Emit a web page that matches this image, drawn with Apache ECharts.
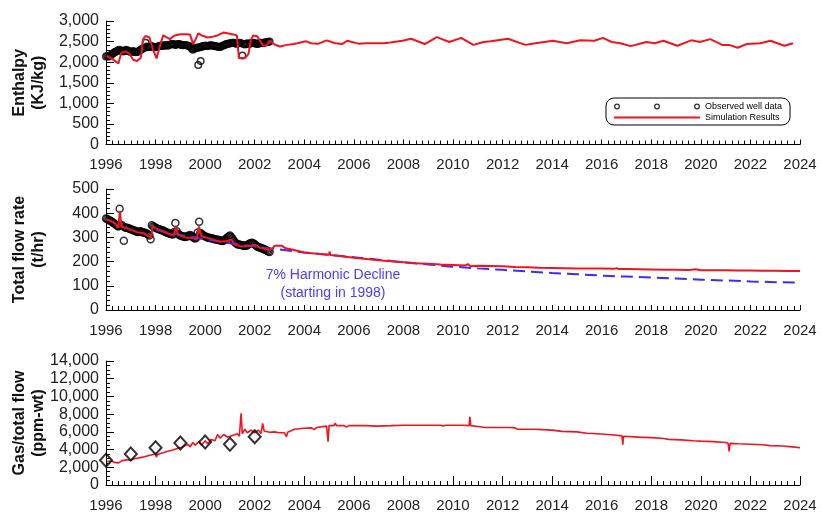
<!DOCTYPE html>
<html>
<head>
<meta charset="utf-8">
<script src="https://cdn.jsdelivr.net/npm/echarts@6/dist/echarts.min.js"></script>
<style>html,body{margin:0;padding:0;background:#fff}#c{width:822px;height:512px}</style>
</head>
<body>
<div id="c"></div>
<script>
// ---------- DATA ----------
const yearTicks = [1996,1998,2000,2002,2004,2006,2008,2010,2012,2014,2016,2018,2020,2022,2024];

// observed enthalpy [year, kJ/kg]
const enthObs = [[1996.00,2140],[1996.05,2150],[1996.10,2130],[1996.15,2160],[1996.20,2170],[1996.25,2200],[1996.30,2220],[1996.35,2240],[1996.40,2260],[1996.45,2270],[1996.50,2290],[1996.55,2300],[1996.60,2280],[1996.65,2270],[1996.70,2260],[1996.75,2280],[1996.80,2300],[1996.85,2290],[1996.90,2270],[1996.95,2260],
[1997.00,2250],[1997.05,2260],[1997.10,2270],[1997.15,2250],[1997.20,2240],[1997.25,2250],[1997.30,2260],[1997.35,2280],[1997.40,2300],[1997.45,2320],[1997.50,2330],[1997.55,2350],[1997.60,2470],[1997.65,2380],[1997.70,2360],[1997.75,2370],[1997.80,2380],[1997.85,2390],[1997.90,2370],[1997.95,2360],
[1998.00,2360],[1998.05,2370],[1998.10,2380],[1998.15,2390],[1998.20,2400],[1998.25,2410],[1998.30,2390],[1998.35,2400],[1998.40,2420],[1998.45,2410],[1998.50,2400],[1998.55,2420],[1998.60,2430],[1998.65,2440],[1998.70,2440],[1998.75,2430],[1998.80,2420],[1998.85,2430],[1998.90,2440],[1998.95,2440],
[1999.00,2430],[1999.05,2420],[1999.10,2410],[1999.15,2420],[1999.20,2420],[1999.25,2410],[1999.30,2400],[1999.35,2390],[1999.40,2380],[1999.45,2340],[1999.50,2300],[1999.55,2320],[1999.60,2340],[1999.65,2350],[1999.70,2350],[1999.72,1930],[1999.75,2360],[1999.80,2360],[1999.82,2030],[1999.85,2370],[1999.90,2390],[1999.95,2400],
[2000.00,2400],[2000.05,2400],[2000.10,2390],[2000.15,2400],[2000.20,2410],[2000.25,2410],[2000.30,2400],[2000.35,2400],[2000.40,2390],[2000.45,2380],[2000.50,2380],[2000.55,2370],[2000.60,2370],[2000.65,2380],[2000.70,2400],[2000.75,2410],[2000.80,2420],[2000.85,2440],[2000.90,2450],[2000.95,2450],
[2001.00,2460],[2001.05,2460],[2001.10,2470],[2001.15,2470],[2001.20,2460],[2001.25,2450],[2001.30,2450],[2001.35,2460],[2001.40,2470],[2001.45,2460],[2001.50,2160],[2001.55,2440],[2001.60,2430],[2001.65,2440],[2001.70,2460],[2001.75,2450],[2001.80,2450],[2001.85,2460],[2001.90,2470],[2001.95,2470],
[2002.00,2460],[2002.05,2450],[2002.10,2440],[2002.15,2450],[2002.20,2470],[2002.25,2470],[2002.30,2460],[2002.35,2470],[2002.40,2480],[2002.45,2480],[2002.50,2490],[2002.55,2490],[2002.60,2500]];

// simulated enthalpy [year, kJ/kg]
const enthSim = [[1996.03,2150],[1996.25,2080],[1996.5,1970],[1996.62,2230],[1996.8,2260],[1996.95,2200],[1997.1,2060],[1997.25,2030],[1997.4,2100],[1997.5,2560],[1997.6,2640],[1997.75,2600],[1997.9,2300],[1998.04,2090],[1998.2,2450],[1998.31,2650],[1998.45,2600],[1998.58,2560],[1998.75,2640],[1998.99,2680],[1999.2,2680],[1999.39,2670],[1999.52,2440],[1999.62,2560],[1999.72,2700],[1999.9,2640],[2000.1,2600],[2000.3,2620],[2000.5,2650],[2000.73,2720],[2000.9,2700],[2001.1,2680],[2001.28,2650],[2001.36,2100],[2001.61,2100],[2001.75,2200],[2001.85,2550],[2001.94,2650],[2002.1,2630],[2002.25,2480],[2002.35,2400],[2002.5,2420],[2002.62,2520],[2002.8,2430],[2003.02,2380],[2003.3,2420],[2003.58,2440],[2003.72,2460],[2004.06,2510],[2004.27,2460],[2004.55,2445],[2004.9,2530],[2005.25,2460],[2005.53,2440],[2005.73,2520],[2006.22,2445],[2006.5,2460],[2007.2,2460],[2007.47,2480],[2007.96,2520],[2008.31,2570],[2008.86,2440],[2009.35,2610],[2009.85,2490],[2010.33,2590],[2010.82,2420],[2011.24,2490],[2011.52,2510],[2012.22,2570],[2012.91,2420],[2013.33,2460],[2014.03,2520],[2014.59,2460],[2015.14,2530],[2015.7,2520],[2016.05,2590],[2016.4,2490],[2016.75,2460],[2017.17,2390],[2017.8,2490],[2018.14,2460],[2018.49,2520],[2019.05,2400],[2019.61,2530],[2019.96,2490],[2020.38,2560],[2020.86,2420],[2021.14,2420],[2021.49,2350],[2021.84,2440],[2022.4,2460],[2022.81,2520],[2023.37,2400],[2023.72,2460]];

// observed total flow [year, t/hr]
const flowObs = [[1996.00,378],[1996.05,376],[1996.10,372],[1996.15,370],[1996.20,368],[1996.25,364],[1996.30,360],[1996.35,356],[1996.40,352],[1996.45,348],[1996.50,345],[1996.55,418],[1996.60,348],[1996.65,350],[1996.72,286],[1996.75,342],[1996.80,340],[1996.85,340],[1996.90,338],[1996.95,336],
[1997.00,335],[1997.05,332],[1997.10,330],[1997.15,328],[1997.20,325],[1997.25,323],[1997.30,322],[1997.35,324],[1997.40,325],[1997.45,322],[1997.50,320],[1997.55,319],[1997.60,318],[1997.65,315],[1997.70,312],[1997.75,308],[1997.80,292],[1997.85,350],[1997.90,346],[1997.95,343],
[1998.00,340],[1998.05,338],[1998.10,335],[1998.15,334],[1998.20,332],[1998.25,330],[1998.30,328],[1998.35,325],[1998.40,322],[1998.45,320],[1998.50,318],[1998.55,316],[1998.60,315],[1998.65,313],[1998.70,312],[1998.75,322],[1998.80,360],[1998.85,325],[1998.90,315],[1998.95,311],
[1999.00,308],[1999.05,306],[1999.10,305],[1999.15,303],[1999.20,302],[1999.25,304],[1999.30,305],[1999.35,308],[1999.40,310],[1999.45,306],[1999.50,302],[1999.55,298],[1999.60,295],[1999.65,300],[1999.70,320],[1999.76,365],[1999.80,318],[1999.85,315],[1999.90,310],[1999.95,307],
[2000.00,305],[2000.05,302],[2000.10,300],[2000.15,299],[2000.20,298],[2000.25,296],[2000.30,295],[2000.35,293],[2000.40,292],[2000.45,291],[2000.50,290],[2000.55,289],[2000.60,288],[2000.65,286],[2000.70,285],[2000.75,287],[2000.80,290],[2000.85,295],[2000.90,300],[2000.95,304],
[2001.00,308],[2001.05,302],[2001.10,295],[2001.15,287],[2001.20,280],[2001.25,276],[2001.30,272],[2001.35,271],[2001.40,270],[2001.45,269],[2001.50,268],[2001.55,266],[2001.60,265],[2001.65,266],[2001.70,268],[2001.75,272],[2001.80,275],[2001.85,277],[2001.90,278],[2001.95,275],
[2002.00,272],[2002.05,267],[2002.10,262],[2002.15,260],[2002.20,258],[2002.25,256],[2002.30,255],[2002.35,252],[2002.40,250],[2002.45,248],[2002.50,245],[2002.55,242],[2002.60,240]];

// simulated total flow [year, t/hr]
const flowSim = [[1996.0,375],[1996.2,368],[1996.4,355],[1996.5,340],[1996.56,410],[1996.62,345],[1996.7,340],[1996.9,335],[1997.1,328],[1997.3,320],[1997.5,318],[1997.7,305],[1997.82,300],[1997.88,345],[1998.0,338],[1998.3,325],[1998.6,312],[1998.75,310],[1998.82,345],[1998.9,312],[1999.2,300],[1999.5,298],[1999.65,290],[1999.75,345],[1999.85,305],[2000.2,295],[2000.6,282],[2000.9,285],[2001.05,292],[2001.2,270],[2001.5,262],[2001.8,265],[2002.0,270],[2002.2,258],[2002.5,250],[2002.7,252],[2002.8,265],[2003.1,265],[2003.25,255],[2003.5,250],[2004.0,238],[2004.5,232],[2005.0,228],[2005.02,242],[2005.05,227],[2005.5,222],[2006.0,216],[2006.5,211],[2007.0,206],[2007.5,201],[2008.0,197],[2008.5,193],[2009.0,191],[2009.5,188],[2010.0,186],[2010.5,184],[2010.6,190],[2010.7,181],[2011.0,183],[2011.5,182],[2012.0,181],[2012.5,178],[2013.0,177],[2013.5,175],[2014.0,174],[2014.5,173],[2015.0,172],[2015.5,171],[2016.0,171],[2016.5,170],[2016.6,173],[2016.7,169],[2017.0,169],[2017.5,168],[2018.0,167],[2018.5,166],[2019.0,166],[2019.5,165],[2019.8,168],[2020.0,164],[2020.5,164],[2021.0,164],[2021.5,163],[2022.0,163],[2022.5,162],[2023.0,162],[2023.5,161],[2024.0,161]];

// 7% harmonic decline (from 1998)
const declineYears = [1998,1999,2000,2001,2002,2003,2004,2005,2006,2007,2008,2009,2010,2011,2012,2013,2014,2015,2016,2017,2018,2019,2020,2021,2022,2023,2024];
const declineValues = [330,310,292,276,262,250,238,228,218,208,197,188,179,172,166,159,153,148,142,138,134,130,125,122,118,115,113];

// observed gas/total flow
const gasObsYears = [1996,1997,1998,1999,2000,2001,2002];
const gasObsValues = [2800,3500,4200,4750,4850,4600,5450];

// simulated gas/total flow [year, ppm-wt]
const gasSim = [[1996.05,2650],[1996.2,2700],[1996.35,2550],[1996.5,2500],[1996.65,2750],[1996.85,2850],[1997.0,2800],[1997.1,2950],[1997.3,3050],[1997.5,3150],[1997.7,3300],[1997.9,3450],[1998.0,3550],[1998.03,3150],[1998.08,3450],[1998.3,3650],[1998.5,3800],[1998.7,3950],[1998.9,4150],[1999.1,4300],[1999.3,4600],[1999.4,4300],[1999.5,4800],[1999.6,4500],[1999.75,4900],[1999.85,4500],[2000.0,5000],[2000.1,4650],[2000.25,5150],[2000.4,5000],[2000.5,5700],[2000.6,5300],[2000.75,5700],[2000.9,5400],[2001.1,5600],[2001.3,5800],[2001.38,5500],[2001.45,8100],[2001.5,5800],[2001.6,6300],[2001.7,5900],[2001.85,6200],[2002.0,5900],[2002.15,6200],[2002.25,5800],[2002.32,6950],[2002.38,6100],[2002.6,5950],[2002.8,6000],[2003.0,5900],[2003.2,5900],[2003.28,5450],[2003.33,5950],[2003.6,6300],[2004.0,6400],[2004.3,6450],[2004.4,6250],[2004.5,6500],[2004.9,6650],[2004.96,4900],[2005.0,6700],[2005.2,6700],[2005.25,7000],[2005.3,6700],[2005.6,6700],[2005.7,6550],[2005.8,6700],[2006.5,6700],[2006.9,6650],[2007.5,6700],[2008.0,6750],[2008.3,6750],[2008.35,6950],[2008.4,6750],[2009.0,6750],[2009.5,6750],[2009.6,6650],[2009.7,6750],[2010.4,6750],[2010.65,6700],[2010.68,7700],[2010.72,6700],[2011.0,6600],[2011.3,6500],[2011.6,6500],[2012.3,6500],[2012.5,6450],[2012.6,6300],[2013.3,6300],[2013.6,6250],[2014.0,6200],[2014.4,6050],[2015.0,6000],[2015.4,5850],[2016.0,5750],[2016.5,5650],[2016.82,5550],[2016.85,4550],[2016.88,5500],[2017.5,5400],[2018.0,5350],[2018.5,5250],[2018.7,5150],[2019.2,5100],[2019.7,5000],[2020.0,4950],[2020.5,4900],[2021.0,4800],[2021.1,4700],[2021.14,3800],[2021.18,4700],[2021.5,4650],[2022.0,4600],[2022.5,4550],[2022.8,4450],[2023.3,4400],[2023.7,4300],[2024.0,4200]];

// ---------- CHART ----------
const FONT = "Arial, 'Liberation Sans', sans-serif";
const RED = '#f01420';
const zip = (xs, ys) => xs.map((x, i) => [x, ys[i]]);
const ringIcon = 'path://' +
  'M0,3A3,3,0,1,1,6,3A3,3,0,1,1,0,3ZM1.3,3A1.7,1.7,0,1,0,4.7,3A1.7,1.7,0,1,0,1.3,3Z' +
  'M40,3A3,3,0,1,1,46,3A3,3,0,1,1,40,3ZM41.3,3A1.7,1.7,0,1,0,44.7,3A1.7,1.7,0,1,0,41.3,3Z' +
  'M80,3A3,3,0,1,1,86,3A3,3,0,1,1,80,3ZM81.3,3A1.7,1.7,0,1,0,84.7,3A1.7,1.7,0,1,0,81.3,3Z';
const lineIcon = 'path://M0,0H86V2H0Z';

function xAx(idx, majorLen) {
  return {
    type: 'value', gridIndex: idx, min: yearTicks[0], max: yearTicks[yearTicks.length - 1], interval: 2,
    axisLine: { show: true, onZero: false, lineStyle: { color: '#000', width: 1 } },
    axisTick: { show: true, inside: true, length: majorLen, lineStyle: { color: '#000' } },
    minorTick: { show: true, splitNumber: 8, length: 4, lineStyle: { color: '#000' } },
    splitLine: { show: false },
    axisLabel: { fontSize: 15, color: '#222', fontFamily: FONT, margin: 13, formatter: v => String(v) }
  };
}
function yAx(idx, max, interval, minor, name) {
  return {
    type: 'value', gridIndex: idx, min: 0, max: max, interval: interval,
    name: name, nameLocation: 'middle', nameRotate: 90, nameGap: 58, nameMoveOverlap: false,
    nameTextStyle: { fontSize: 16, fontWeight: 'bold', color: '#111', fontFamily: FONT, lineHeight: 19 },
    axisLine: { show: true, lineStyle: { color: '#000', width: 1 } },
    axisTick: { show: true, inside: true, length: 8, lineStyle: { color: '#000' } },
    minorTick: { show: true, splitNumber: minor, length: 4, lineStyle: { color: '#000' } },
    splitLine: { show: false },
    axisLabel: { fontSize: 16, color: '#222', fontFamily: FONT, margin: 7,
      formatter: v => v.toLocaleString('en-US') }
  };
}

const chart = echarts.init(document.getElementById('c'), null, { renderer: 'canvas' });
chart.setOption({
  animation: false,
  backgroundColor: '#fff',
  grid: [
    { left: 106, right: 22, top: 21, height: 123.5, containLabel: false, outerBoundsMode: 'none' },
    { left: 106, right: 22, top: 189, height: 121, containLabel: false, outerBoundsMode: 'none' },
    { left: 106, right: 22, top: 361, height: 124, containLabel: false, outerBoundsMode: 'none' }
  ],
  xAxis: [xAx(0, 5), xAx(1, 5), xAx(2, 9)],
  yAxis: [
    yAx(0, 3000, 500, 5, 'Enthalpy\n(KJ/kg)'),
    yAx(1, 500, 100, 5, 'Total flow rate\n(t/hr)'),
    yAx(2, 14000, 2000, 4, 'Gas/total flow\n(ppm-wt)')
  ],
  legend: {
    orient: 'vertical', left: 606, top: 98,
    padding: [4, 8, 3, 8], itemGap: 2, itemWidth: 86, itemHeight: 7,
    borderColor: '#000', borderWidth: 1, borderRadius: 8, backgroundColor: '#fff',
    textStyle: { fontSize: 9, color: '#000', fontFamily: FONT },
    data: [
      { name: 'Observed well data', icon: ringIcon, itemStyle: { color: '#000', borderWidth: 0 } },
      { name: 'Simulation Results', icon: lineIcon, itemStyle: { color: RED, borderWidth: 0 } }
    ]
  },
  graphic: [{
    type: 'text', x: 333, y: 284,
    style: { text: '7% Harmonic Decline\n(starting in 1998)', fill: '#4a3cff', font: '14px ' + FONT,
      textAlign: 'center', textVerticalAlign: 'middle', lineHeight: 18 }
  }],
  series: [
    { name: 'Observed well data', type: 'scatter', xAxisIndex: 0, yAxisIndex: 0, data: enthObs,
      symbol: 'circle', symbolSize: 6.5, itemStyle: { color: 'rgba(255,255,255,0)', borderColor: '#000', borderWidth: 1.5 }, z: 2 },
    { name: 'Simulation Results', type: 'line', xAxisIndex: 0, yAxisIndex: 0, data: enthSim,
      symbol: 'none', lineStyle: { color: RED, width: 2 }, itemStyle: { color: RED }, z: 3 },
    { name: 'Observed well data', type: 'scatter', xAxisIndex: 1, yAxisIndex: 1, data: flowObs,
      symbol: 'circle', symbolSize: 7, itemStyle: { color: 'rgba(255,255,255,0)', borderColor: '#000', borderWidth: 1.5 }, z: 2 },
    { name: 'Harmonic Decline', type: 'line', xAxisIndex: 1, yAxisIndex: 1, data: zip(declineYears, declineValues),
      symbol: 'none', lineStyle: { color: '#3a2cff', width: 2, type: [12, 6] }, z: 3 },
    { name: 'Simulation Results', type: 'line', xAxisIndex: 1, yAxisIndex: 1, data: flowSim,
      symbol: 'none', lineStyle: { color: RED, width: 2 }, itemStyle: { color: RED }, z: 4 },
    { name: 'Simulation Results', type: 'line', xAxisIndex: 2, yAxisIndex: 2, data: gasSim,
      symbol: 'none', lineStyle: { color: RED, width: 1.6 }, itemStyle: { color: RED }, z: 3 },
    { name: 'Observed well data', type: 'scatter', xAxisIndex: 2, yAxisIndex: 2, data: zip(gasObsYears, gasObsValues),
      symbol: 'diamond', symbolSize: [12, 13], itemStyle: { color: 'rgba(255,255,255,0)', borderColor: '#000', borderWidth: 2 }, z: 4 }
  ]
});
</script>
</body>
</html>
